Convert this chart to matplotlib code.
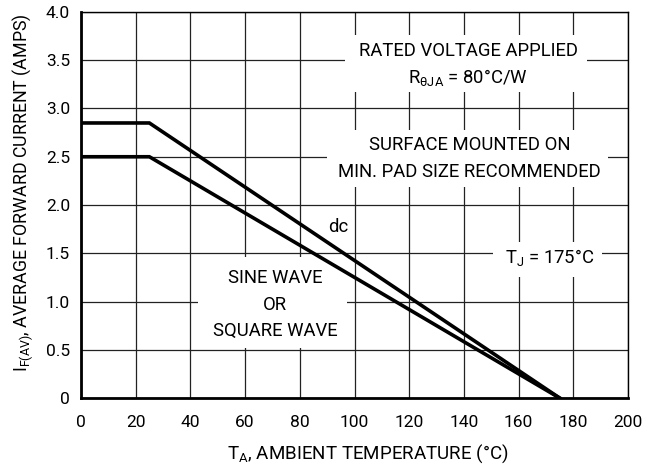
import matplotlib
matplotlib.use("Agg")
import matplotlib.pyplot as plt

plt.rcParams['font.family'] = ['Roboto', 'DejaVu Sans']
plt.rcParams['mathtext.fontset'] = 'custom'
plt.rcParams['mathtext.rm'] = 'Roboto'

temp_dc = [0, 25, 175]
current_dc = [2.85, 2.85, 0.0]
temp_sine = [0, 25, 175]
current_sine = [2.5, 2.5, 0.0]

x_ticks = [0, 20, 40, 60, 80, 100, 120, 140, 160, 180, 200]
y_ticks = [0, 0.5, 1.0, 1.5, 2.0, 2.5, 3.0, 3.5, 4.0]
y_tick_labels = ['0', '0.5', '1.0', '1.5', '2.0', '2.5', '3.0', '3.5', '4.0']

fig = plt.figure(figsize=(6.52, 4.74), dpi=100)
ax = fig.add_axes([81/652, 1 - 398/474, (628-81)/652, (398-12)/474])

ax.set_xlim(0, 200)
ax.set_ylim(0, 4)
ax.set_xticks(x_ticks)
ax.set_yticks(y_ticks)
ax.set_yticklabels(y_tick_labels)
ax.grid(True, color='#222222', linewidth=0.9)
ax.tick_params(length=0, labelsize=12.5)
ax.tick_params(axis='x', pad=12)
ax.tick_params(axis='y', pad=8)
for s in ['left', 'bottom']:
    ax.spines[s].set_linewidth(2.0)
for s in ['top', 'right']:
    ax.spines[s].set_linewidth(1.0)

ax.plot(temp_dc, current_dc, color='black', linewidth=2.6, solid_joinstyle='miter', zorder=3)
ax.plot(temp_sine, current_sine, color='black', linewidth=2.6, solid_joinstyle='miter', zorder=3)

def box(x0, x1, y0, y1):
    ax.fill_between([x0, x1], y0, y1, color='white', zorder=2, linewidth=0)

box(96.5, 185, 3.17, 3.76)
box(90, 192.7, 2.19, 2.78)
box(150.6, 190.5, 1.25, 1.62)
box(42.8, 97.3, 0.52, 1.46)

fs = 13.3
ax.text(141.5, 3.60, 'RATED VOLTAGE APPLIED', ha='center', va='center', fontsize=fs, zorder=4)
ax.text(141.5, 3.32, r'R$_{\mathregular{\theta JA}}$ = 80°C/W', ha='center', va='center', fontsize=fs, zorder=4)
ax.text(142, 2.62, 'SURFACE MOUNTED ON', ha='center', va='center', fontsize=fs, zorder=4)
ax.text(142, 2.34, 'MIN. PAD SIZE RECOMMENDED', ha='center', va='center', fontsize=fs, zorder=4)
ax.text(94, 1.77, 'dc', ha='center', va='center', fontsize=fs, zorder=4)
ax.text(171.5, 1.46, r'T$_{\mathregular{J}}$ = 175°C', ha='center', va='center', fontsize=fs, zorder=4)
ax.text(71, 1.24, 'SINE WAVE', ha='center', va='center', fontsize=fs, zorder=4)
ax.text(71, 0.96, 'OR', ha='center', va='center', fontsize=fs, zorder=4)
ax.text(71, 0.69, 'SQUARE WAVE', ha='center', va='center', fontsize=fs, zorder=4)

ax.set_xlabel(r'T$_{\mathregular{A}}$, AMBIENT TEMPERATURE (°C)', fontsize=13.5, labelpad=9)
ax.set_ylabel(r'I$_{\mathregular{F(AV)}}$, AVERAGE FORWARD CURRENT (AMPS)', fontsize=12.8, labelpad=8)
ax.xaxis.label.set_x(0.525)
ax.yaxis.label.set_y(0.531)

fig.savefig('out.png', dpi=100)
